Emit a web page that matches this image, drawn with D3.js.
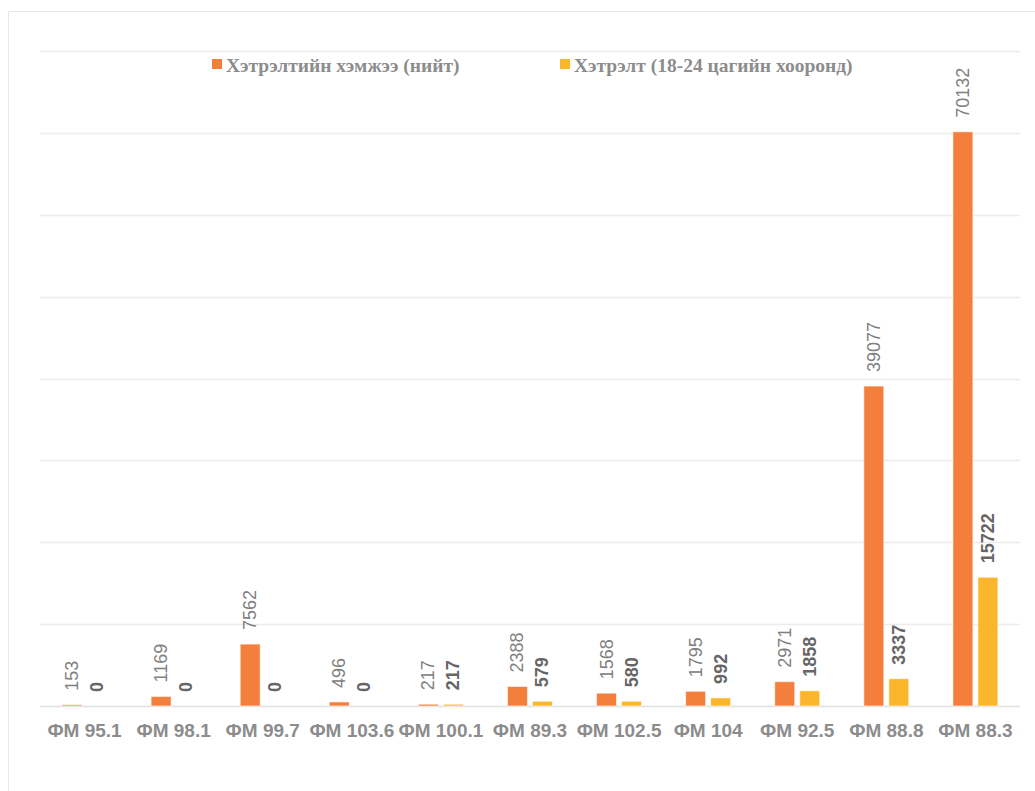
<!DOCTYPE html>
<html>
<head>
<meta charset="utf-8">
<script src="https://cdn.jsdelivr.net/npm/d3@7"></script>
<style>
  body { margin: 0; background: #fff; }
  svg { display: block; }
</style>
</head>
<body>
<div class="chart"></div>
<script>
const categories = ["ФМ 95.1", "ФМ 98.1", "ФМ 99.7", "ФМ 103.6", "ФМ 100.1", "ФМ 89.3", "ФМ 102.5", "ФМ 104", "ФМ 92.5", "ФМ 88.8", "ФМ 88.3"];
const totalReach = [153, 1169, 7562, 496, 217, 2388, 1568, 1795, 2971, 39077, 70132];
const nightReach = [0, 0, 0, 0, 217, 579, 580, 992, 1858, 3337, 15722];
const seriesNames = ["Хэтрэлтийн хэмжээ (нийт)", "Хэтрэлт (18-24 цагийн хооронд)"];
const gridTicks = [0, 10000, 20000, 30000, 40000, 50000, 60000, 70000, 80000];

const width = 1035, height = 791;
const colors = ["#f47e3b", "#fcb62c"];

const svg = d3.select(".chart").append("svg")
  .attr("width", width)
  .attr("height", height);

// outer frame
svg.append("path")
  .attr("d", "M8.5,791 V11.5 H1035")
  .attr("fill", "none")
  .attr("stroke", "#e6e6e6");

const x = d3.scaleBand().domain(categories).range([40, 1020]);
const x1 = d3.scaleBand().domain([0, 1]).range([22, 67]).paddingInner(0.2);
const y = d3.scaleLinear().domain([0, 80000]).range([706, 51]);

// gridlines
svg.append("g").selectAll("line")
  .data(gridTicks)
  .join("line")
  .attr("x1", 40).attr("x2", 1020)
  .attr("y1", d => Math.round(y(d)) + 0.5)
  .attr("y2", d => Math.round(y(d)) + 0.5)
  .attr("stroke", d => d === 0 ? "#e0e0e0" : "#ececec")
  .attr("stroke-width", 1.5);

const rows = categories.map((c, i) => ({ cat: c, vals: [totalReach[i], nightReach[i]] }));

const groups = svg.append("g").selectAll("g")
  .data(rows)
  .join("g")
  .attr("transform", d => `translate(${x(d.cat)},0)`);

groups.selectAll("rect")
  .data(d => d.vals.map((v, k) => ({ v, k })))
  .join("rect")
  .attr("x", d => x1(d.k))
  .attr("width", x1.bandwidth())
  .attr("y", d => y(d.v))
  .attr("height", d => y(0) - y(d.v))
  .attr("fill", d => colors[d.k])
  .attr("stroke", "rgba(255,255,255,0.6)")
  .attr("stroke-width", 1);

// value labels, rotated
groups.selectAll("text.val")
  .data(d => d.vals.map((v, k) => ({ v, k })))
  .join("text")
  .attr("class", "val")
  .attr("transform", d => `translate(${x1(d.k) + x1.bandwidth() / 2 + 6},${y(d.v) - 14}) rotate(-90)`)
  .attr("font-family", "'Liberation Sans', Arial, sans-serif")
  .attr("font-size", 18)
  .attr("font-weight", d => d.k === 1 ? "bold" : "normal")
  .attr("fill", d => d.k === 1 ? "#666666" : "#808080")
  .text(d => d.v);

// category labels
svg.append("g").selectAll("text")
  .data(categories)
  .join("text")
  .attr("x", d => x(d) + x.bandwidth() / 2)
  .attr("y", 737)
  .attr("text-anchor", "middle")
  .attr("font-family", "'Liberation Sans', Arial, sans-serif")
  .attr("font-size", 19)
  .attr("font-weight", "bold")
  .attr("fill", "#8c8c8c")
  .text(d => d);

// legend
const legendX = [212, 560];
const legend = svg.append("g").selectAll("g")
  .data(seriesNames)
  .join("g")
  .attr("transform", (d, i) => `translate(${legendX[i]},59)`);

legend.append("rect")
  .attr("width", 10).attr("height", 10)
  .attr("fill", (d, i) => colors[i]);

legend.append("text")
  .attr("x", 14)
  .attr("y", 13)
  .attr("font-family", "'Liberation Serif', 'Times New Roman', serif")
  .attr("font-size", 19.5)
  .attr("font-weight", "bold")
  .attr("fill", "#8c8c8c")
  .text(d => d);
</script>
</body>
</html>
